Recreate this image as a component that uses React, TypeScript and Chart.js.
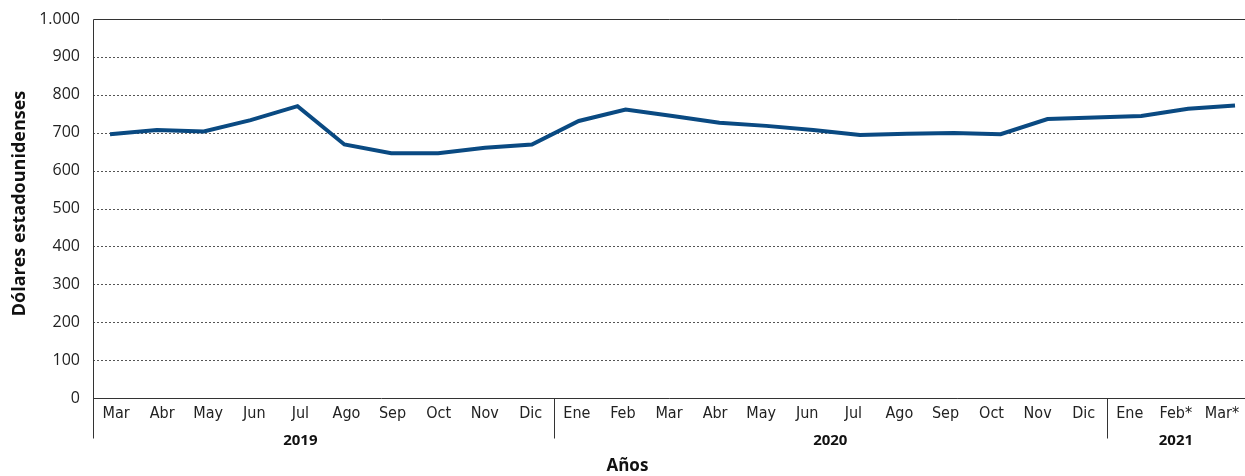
import React, { useEffect, useRef } from "react";
import { Chart, registerables } from "chart.js";

Chart.register(...registerables);

const monthLabels = [
  "Mar", "Abr", "May", "Jun", "Jul", "Ago", "Sep", "Oct", "Nov", "Dic",
  "Ene", "Feb", "Mar", "Abr", "May", "Jun", "Jul", "Ago", "Sep", "Oct", "Nov", "Dic",
  "Ene", "Feb*", "Mar*",
];
const priceValues = [
  696, 707, 703, 733, 770, 669, 646, 646, 660, 669,
  731, 761, 744, 726, 718, 707, 694, 697, 699, 696, 736, 740,
  744, 763, 772,
];
const yearLabels = ["2019", "2020", "2021"];
const yearStart = [0, 10, 22];
const yearEnd = [9, 21, 24];
const yearLabelAt = [4, 15.5, 23];
const yTickValues = [0, 100, 200, 300, 400, 500, 600, 700, 800, 900, 1000];

const fmt = (v: number) => {
  const s = String(Math.round(v));
  return s.replace(/\B(?=(\d{3})+(?!\d))/g, ".");
};

const decor = {
  id: "decor",
  beforeDatasetsDraw(chart: any) {
    const { ctx, chartArea, scales } = chart;
    const { left, right, top, bottom } = chartArea;
    const y = scales.y;
    const x = scales.x;
    ctx.save();
    ctx.lineWidth = 1;
    ctx.strokeStyle = "#555";
    ctx.setLineDash([2, 2]);
    yTickValues.forEach((v) => {
      if (v === 0 || v === 1000) return;
      const py = Math.round(y.getPixelForValue(v)) + 0.5;
      ctx.beginPath();
      ctx.moveTo(left, py);
      ctx.lineTo(right, py);
      ctx.stroke();
    });
    ctx.setLineDash([]);
    ctx.strokeStyle = "#333";
    const ty = Math.round(top) + 0.5;
    const by = Math.round(bottom) + 0.5;
    const lx = Math.round(left) + 0.5;
    ctx.beginPath();
    ctx.moveTo(lx, ty);
    ctx.lineTo(right, ty);
    ctx.moveTo(lx, by);
    ctx.lineTo(right, by);
    ctx.moveTo(lx, ty);
    ctx.lineTo(lx, by + 40);
    yearStart.forEach((s, i) => {
      if (i === 0) return;
      const px = Math.round(x.getPixelForValue(s - 0.5)) + 0.5;
      ctx.moveTo(px, by);
      ctx.lineTo(px, by + 40);
    });
    ctx.stroke();
    ctx.restore();
  },
  afterDraw(chart: any) {
    const { ctx, chartArea, scales } = chart;
    const x = scales.x;
    ctx.save();
    ctx.fillStyle = "#111";
    ctx.textAlign = "center";
    ctx.textBaseline = "middle";
    ctx.font = "bold 15px 'Open Sans', sans-serif";
    yearLabels.forEach((lab, i) => {
      ctx.fillText(lab, x.getPixelForValue(yearLabelAt[i]), chartArea.bottom + 43);
    });
    ctx.font = "bold 17px 'Open Sans', sans-serif";
    ctx.fillText("Años", chartArea.left + 0.47 * (chartArea.right - chartArea.left - 15), chartArea.bottom + 68);
    ctx.translate(20, (chartArea.top + chartArea.bottom) / 2 - 5);
    ctx.rotate(-Math.PI / 2);
    ctx.font = "bold 18px 'Open Sans', sans-serif";
    ctx.fillText("Dólares estadounidenses", 0, 0);
    ctx.restore();
  },
};

export default function App() {
  const ref = useRef<HTMLCanvasElement | null>(null);
  useEffect(() => {
    if (!ref.current) return;
    const chart = new Chart(ref.current, {
      type: "line",
      data: {
        labels: monthLabels,
        datasets: [
          {
            label: "Dólares",
            data: priceValues.map((v, i) => ({ x: i, y: v })),
            xAxisID: "xl",
            borderColor: "#0a4a82",
            borderWidth: 4,
            pointRadius: 0,
            tension: 0,
            fill: false,
          },
        ],
      },
      options: {
        responsive: false,
        animation: false,
        devicePixelRatio: 1,
        layout: { padding: { left: 0, top: 19, right: 15, bottom: 0 } },
        plugins: { legend: { display: false }, tooltip: { enabled: false } },
        scales: {
          x: {
            type: "category",
            offset: true,
            grid: { display: false, drawTicks: false },
            border: { display: false },
            ticks: {
              padding: 6,
              color: "#222",
              maxRotation: 0,
              autoSkip: false,
              font: { family: "'Liberation Sans Narrow', 'DejaVu Sans Condensed', 'Open Sans', sans-serif", size: 16 },
            },
            afterFit: (s: any) => {
              s.height = 78;
              s.paddingLeft = 0;
              s.paddingRight = 0;
            },
          },
          xl: {
            type: "linear",
            display: false,
            min: -0.3627,
            max: 24.213,
          },
          y: {
            min: 0,
            max: 1000,
            grid: { display: false, drawTicks: false },
            border: { display: false },
            afterBuildTicks: (s: any) => {
              s.ticks = yTickValues.map((v) => ({ value: v }));
            },
            ticks: {
              padding: 13,
              color: "#222",
              font: { family: "'Open Sans', sans-serif", size: 16 },
              callback: (v: any) => fmt(Number(v)),
            },
            afterFit: (s: any) => {
              s.width = 93;
              s.paddingTop = 0;
              s.paddingBottom = 0;
            },
          },
        },
      },
      plugins: [decor],
    });
    return () => chart.destroy();
  }, []);
  return (
    <div style={{ position: "fixed", left: 0, top: 0, width: 1245, height: 476, overflow: "hidden", background: "#fff" }}>
      <canvas ref={ref} width={1260} height={476} style={{ width: 1260, height: 476, display: "block" }} />
    </div>
  );
}
